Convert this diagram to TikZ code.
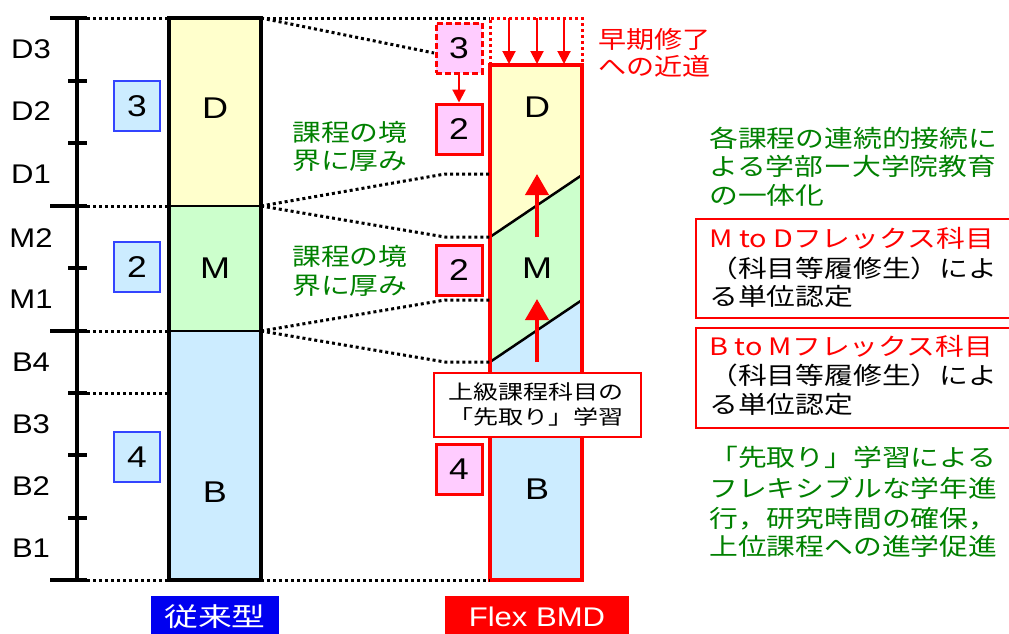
\documentclass[tikz,border=0pt]{standalone}
\usepackage{fontspec}
\setmainfont{Liberation Sans}
\newfontfamily\jp{Noto Sans CJK JP}
\usetikzlibrary{arrows.meta,calc}
\definecolor{dy}{HTML}{FFFFCC}
\definecolor{dg}{HTML}{CCFFCC}
\definecolor{db}{HTML}{CCECFF}
\definecolor{pk}{HTML}{FFCCFF}
\definecolor{gr}{HTML}{008000}
\definecolor{bl}{HTML}{0000F0}
\definecolor{nb}{HTML}{3344FF}
\newcommand\hstretch[2][1.2]{\scalebox{#1}[1]{#2}}
\tikzset{
 jt/.style={font=\jp\fontsize{24}{24}\selectfont, anchor=base west, inner sep=0},
 yr/.style={font=\fontsize{27}{27}\selectfont, anchor=base, inner sep=0},
 barlab/.style={font=\fontsize{30}{30}\selectfont, anchor=base, inner sep=0},
 numbox/.style={minimum width=46, minimum height=50, inner sep=0, font=\fontsize{30}{30}\selectfont},
 bnum/.style={numbox, fill=db, draw=nb, line width=1.5},
 pnum/.style={numbox, fill=pk, draw=red, line width=3},
 dots/.style={line width=3, dash pattern=on 3pt off 3pt},
 rdots/.style={dots, draw=red},
 bigtick/.style={line width=4},
 downarr/.style={red, line width=2, -{Triangle[width=13pt,length=13pt]}},
 uparr/.style={red, line width=4, -{Triangle[width=23pt,length=21pt]}},
 infobox/.style={draw=red, line width=1.5, anchor=north west, inner sep=0},
}
\begin{document}
\begin{tikzpicture}[x=1pt,y=-1pt]
\useasboundingbox (0,0) rectangle (1009,633);

% ---------- axis ----------
\coordinate (axT) at (77,18);
\coordinate (axB) at (77,580);
\draw[line width=4.5] (axT) -- (axB);
\foreach \y/\n in {18/a,206/b,331/c,580/d}{
  \coordinate (mt\n L) at (50,\y); \coordinate (mt\n R) at (87,\y);
  \draw[bigtick] (mt\n L) -- (mt\n R);}
\foreach \y/\n in {81/a,143/b,268/c,393/d,455/e,518/f}{
  \coordinate (st\n L) at (68,\y); \coordinate (st\n R) at (87,\y);
  \draw[bigtick] (st\n L) -- (st\n R);}

\node[yr] (yD3) at (31,58) {\hstretch[1.15]{D3}};
\node[yr] (yD2) at (31,120) {\hstretch[1.15]{D2}};
\node[yr] (yD1) at (31,183) {\hstretch[1.15]{D1}};
\node[yr] (yM2) at (31,247) {\hstretch[1.15]{M2}};
\node[yr] (yM1) at (31,308) {\hstretch[1.15]{M1}};
\node[yr] (yB4) at (31,371) {\hstretch[1.15]{B4}};
\node[yr] (yB3) at (31,433) {\hstretch[1.15]{B3}};
\node[yr] (yB2) at (31,495) {\hstretch[1.15]{B2}};
\node[yr] (yB1) at (31,557) {\hstretch[1.15]{B1}};

% ---------- conventional bar ----------
\coordinate (L1) at (169,18);  \coordinate (R1) at (261,18);
\coordinate (L2) at (169,206); \coordinate (R2) at (261,206);
\coordinate (L3) at (169,331); \coordinate (R3) at (261,331);
\coordinate (L4) at (169,393);
\coordinate (L5) at (169,580); \coordinate (R5) at (261,580);
\fill[dy] (L1) rectangle (R2);
\fill[dg] (L2) rectangle (R3);
\fill[db] (L3) rectangle (R5);
\draw[line width=2.5] (L2) -- (R2) (L3) -- (R3);
\draw[line width=3.5] (L1) rectangle (R5);
\node[barlab] (cD) at (215,118) {\hstretch{D}};
\node[barlab] (cM) at (215,278) {\hstretch{M}};
\node[barlab] (cB) at (215,502) {\hstretch{B}};

\node[bnum] (b3) at (137,106) {\hstretch[1.18]{3}};
\node[bnum] (b2) at (137,267) {\hstretch[1.18]{2}};
\node[bnum] (b4) at (137,457) {\hstretch[1.18]{4}};

% dotted guides from axis
\draw[dots] (mtaR) -- (L1);
\draw[dots] (mtbR) -- (L2);
\draw[dots] (mtcR) -- (L3);
\draw[dots] (stdR) -- (L4);
\draw[dots] (mtdR) -- (L5);

% ---------- Flex BMD bar ----------
\coordinate (F0L) at (490,18);  \coordinate (F0R) at (582,18);
\coordinate (F1L) at (490,65);  \coordinate (F1R) at (582,65);
\coordinate (F2R) at (582,175); \coordinate (F2L) at (490,237);
\coordinate (F3R) at (582,300); \coordinate (F3L) at (490,362);
\coordinate (F5L) at (490,580); \coordinate (F5R) at (582,580);
\fill[dy] (F1L) -- (F1R) -- (F2R) -- (F2L) -- cycle;
\fill[dg] (F2L) -- (F2R) -- (F3R) -- (F3L) -- cycle;
\fill[db] (F3L) -- (F3R) -- (F5R) -- (F5L) -- cycle;
\draw[line width=2.5] (F2L) -- (F2R) (F3L) -- (F3R);
\draw[red, line width=3.5] (F1L) rectangle (F5R);
\draw[rdots] (F1L) -- (F0L) -- (F0R) -- (F1R);
\node[barlab] (fD) at (537,117) {\hstretch{D}};
\node[barlab] (fM) at (537,278) {\hstretch{M}};
\node[barlab] (fB) at (537,499) {\hstretch{B}};

% arrows down (early completion)
\foreach \x/\n in {509/a,537/b,564/c}{
  \coordinate (dn\n T) at (\x,18); \coordinate (dn\n B) at (\x,64);
  \draw[downarr] (dn\n T) -- (dn\n B);}
% arrows up
\coordinate (up1B) at (537,237); \coordinate (up1T) at (537,174);
\coordinate (up2B) at (537,362); \coordinate (up2T) at (537,299);
\draw[uparr] (up1B) -- (up1T);
\draw[uparr] (up2B) -- (up2T);

% pink boxes
\node[pnum, dashed, dash pattern=on 6pt off 3pt] (p3) at (459,48) {\hstretch[1.18]{3}};
\node[pnum] (p2a) at (459,129) {\hstretch[1.18]{2}};
\node[pnum] (p2b) at (459,270) {\hstretch[1.18]{2}};
\node[pnum] (p4) at (459,469) {\hstretch[1.18]{4}};
\draw[downarr] (p3.south) -- (p2a.north);

% dotted connectors between bars
\coordinate (p3in) at (434,53);
\coordinate (k1u) at (445,174); \coordinate (k1d) at (445,237);
\coordinate (k2u) at (445,300); \coordinate (k2d) at (445,362);
\coordinate (F2Lu) at (490,174); \coordinate (F3Lu) at (490,300);
\draw[dots] (R1) -- (F0L);
\draw[dots] (R1) -- (p3in);
\draw[dots] (R2) -- (k1u) -- (F2Lu);
\draw[dots] (R2) -- (k1d) -- (F2L);
\draw[dots] (R3) -- (k2u) -- (F3Lu);
\draw[dots] (R3) -- (k2d) -- (F3L);
\draw[dots] (R5) -- (F5L);

% green annotations
\node[jt, text=gr] (g1a) at (292,141) {\hstretch{課程の境}};
\node[jt, text=gr] (g1b) at (292,169) {\hstretch{界に厚み}};
\node[jt, text=gr] (g2a) at (292,265) {\hstretch{課程の境}};
\node[jt, text=gr] (g2b) at (292,294) {\hstretch{界に厚み}};

% early completion text
\node[jt, text=red] (e1) at (598,48) {\hstretch[1.17]{早期修了}};
\node[jt, text=red] (e2) at (598,75) {\hstretch[1.17]{への近道}};

% advanced learning box
\node[draw=red, line width=1.5, fill=white, anchor=north west, minimum width=207, minimum height=64, inner sep=0] (adv) at (433,372) {};
\node[font=\jp\fontsize{20}{20}\selectfont, anchor=base, inner sep=0] (adv1) at (536,399) {\hstretch[1.25]{上級課程科目の}};
\node[font=\jp\fontsize{20}{20}\selectfont, anchor=base, inner sep=0] (adv2) at (536,424) {\hstretch[1.25]{「先取り」学習}};

% right column
\node[jt, text=gr] (r1) at (709,147) {\hstretch{各課程の連続的接続に}};
\node[jt, text=gr] (r2) at (709,175) {\hstretch{よる学部ー大学院教育}};
\node[jt, text=gr] (r3) at (709,204) {\hstretch{の一体化}};

\node[infobox, minimum width=318, minimum height=99] (mdbox) at (695,218) {};
\node[jt, text=red] (md1) at (709,247) {\hstretch{M to Dフレックス科目}};
\node[jt] (md2) at (709,277) {\hstretch{（科目等履修生）によ}};
\node[jt] (md3) at (709,305) {\hstretch{る単位認定}};

\node[infobox, minimum width=318, minimum height=100] (bmbox) at (695,327) {};
\node[jt, text=red] (bm1) at (709,355) {\hstretch{B to Mフレックス科目}};
\node[jt] (bm2) at (709,384) {\hstretch{（科目等履修生）によ}};
\node[jt] (bm3) at (709,413) {\hstretch{る単位認定}};

\node[jt, text=gr] (s1) at (709,466) {\hstretch{「先取り」学習による}};
\node[jt, text=gr] (s2) at (709,497) {\hstretch{フレキシブルな学年進}};
\node[jt, text=gr] (s3) at (709,527) {\hstretch{行，研究時間の確保，}};
\node[jt, text=gr] (s4) at (709,555) {\hstretch{上位課程への進学促進}};

% bottom labels
\node[fill=bl, text=white, minimum width=128, minimum height=42, inner sep=0, font=\jp\fontsize{26}{26}\selectfont] (lab1) at (215,617) {\hstretch[1.3]{従来型}};
\node[fill=red, text=white, minimum width=184, minimum height=42, inner sep=0, font=\fontsize{27}{27}\selectfont] (lab2) at (537,617) {\hstretch[1.15]{Flex BMD}};
\end{tikzpicture}
\end{document}
